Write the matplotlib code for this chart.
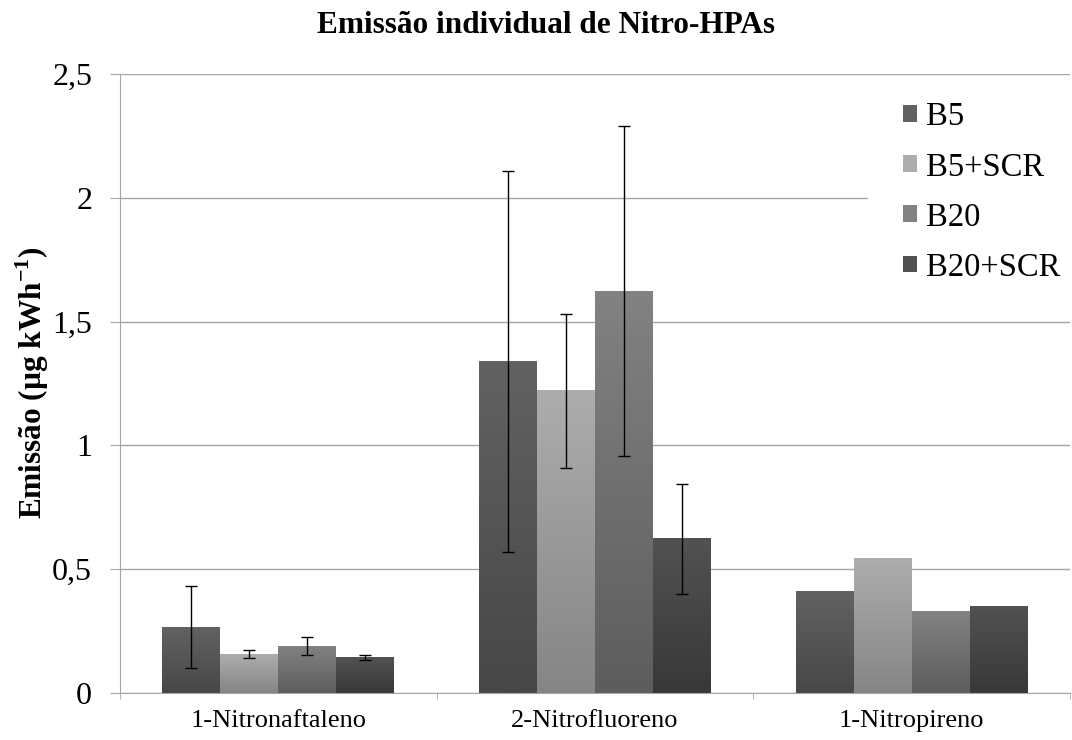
import numpy as np
import matplotlib.pyplot as plt
from matplotlib.colors import LinearSegmentedColormap
from matplotlib.patches import Rectangle

plt.rcParams['font.family'] = 'Liberation Serif'
plt.rcParams['mathtext.fontset'] = 'custom'
plt.rcParams['mathtext.rm'] = 'Liberation Serif'
plt.rcParams['mathtext.bf'] = 'Liberation Serif:bold'

# data
compostos = ['1-Nitronaftaleno', '2-Nitrofluoreno', '1-Nitropireno']
series = ['B5', 'B5+SCR', 'B20', 'B20+SCR']
b5 = [0.265, 1.34, 0.408]
b5_scr = [0.157, 1.22, 0.542]
b20 = [0.189, 1.623, 0.328]
b20_scr = [0.143, 0.623, 0.350]
err_b5 = [0.166, 0.77, 0]
err_b5_scr = [0.017, 0.31, 0]
err_b20 = [0.036, 0.666, 0]
err_b20_scr = [0.010, 0.223, 0]
yticks = [0, 0.5, 1, 1.5, 2, 2.5]
ytick_labels = ['0', '0,5', '1', '1,5', '2', '2,5']

valores = [b5, b5_scr, b20, b20_scr]
erros = [err_b5, err_b5_scr, err_b20, err_b20_scr]
# (bottom, top) of the vertical gradient for each series
cores = [('#474747', '#626262'),
         ('#858585', '#adadad'),
         ('#5d5d5d', '#828282'),
         ('#383838', '#525252')]

fig = plt.figure(figsize=(10.72, 7.4), dpi=100)
ax = fig.add_axes([120/1072, 47/740, 950/1072, 619/740])

x = np.arange(len(compostos))
bw = 0.183
grad = np.linspace(0, 1, 256).reshape(-1, 1)

for i, (vals, errs, (c0, c1)) in enumerate(zip(valores, erros, cores)):
    pos = x + (i - 1.5) * bw
    bars = ax.bar(pos, vals, bw, color=c1, label=series[i], zorder=2)
    cmap = LinearSegmentedColormap.from_list('g%d' % i, [c0, c1])
    for p in bars:
        x0, w, h = p.get_x(), p.get_width(), p.get_height()
        ax.imshow(grad, extent=[x0, x0 + w, 0, h], origin='lower',
                  cmap=cmap, aspect='auto', zorder=2.1)
    ev = np.array(errs)
    m = ev > 0
    ax.errorbar(pos[m], np.array(vals)[m], yerr=ev[m], fmt='none',
                ecolor='black', elinewidth=1, capsize=4.5, capthick=1,
                zorder=3)

ax.set_xlim(-0.5, 2.5)
ax.set_ylim(0, 2.5)
ax.set_yticks(yticks, ytick_labels)
ax.set_xticks(x, compostos)
ax.set_xticks(np.arange(-0.5, 3, 1), minor=True)
ax.yaxis.grid(True, color='#a6a6a6', linewidth=1, zorder=0)
ax.set_axisbelow(True)
for s in ['top', 'right']:
    ax.spines[s].set_visible(False)
for s in ['left', 'bottom']:
    ax.spines[s].set_color('#a6a6a6')
ax.tick_params(axis='y', length=7, color='#a6a6a6', labelsize=23, pad=13)
ax.tick_params(axis='x', which='major', length=0, labelsize=19, pad=12)
ax.tick_params(axis='x', which='minor', length=4.5, color='#a6a6a6')

fig.text(546/1072, 1 - 33/740, 'Emissão individual de Nitro-HPAs',
         ha='center', va='baseline', fontsize=22.5, fontweight='bold')
fig.text(32/1072, 1 - 383/740, r'Emissão (µg kWh$^{\mathbf{-1}}$)',
         rotation=90, ha='center', va='center', fontsize=22.5, fontweight='bold')

# white legend area that hides the gridline behind it
ax.add_patch(Rectangle((868/1072, 1 - 318/740), 1 - 868/1072, 236/740,
                       transform=fig.transFigure, facecolor='white',
                       edgecolor='none', clip_on=False, zorder=4))
leg = ax.legend(loc='upper left', bbox_to_anchor=(868/1072, 1 - 67/740),
                bbox_transform=fig.transFigure, frameon=False, fontsize=23.5,
                handlelength=0.42, handleheight=0.42, handletextpad=0.3,
                labelspacing=0.6, borderpad=1.07, borderaxespad=0)
leg.set_zorder(5)

fig.savefig('out.png', dpi=100)
